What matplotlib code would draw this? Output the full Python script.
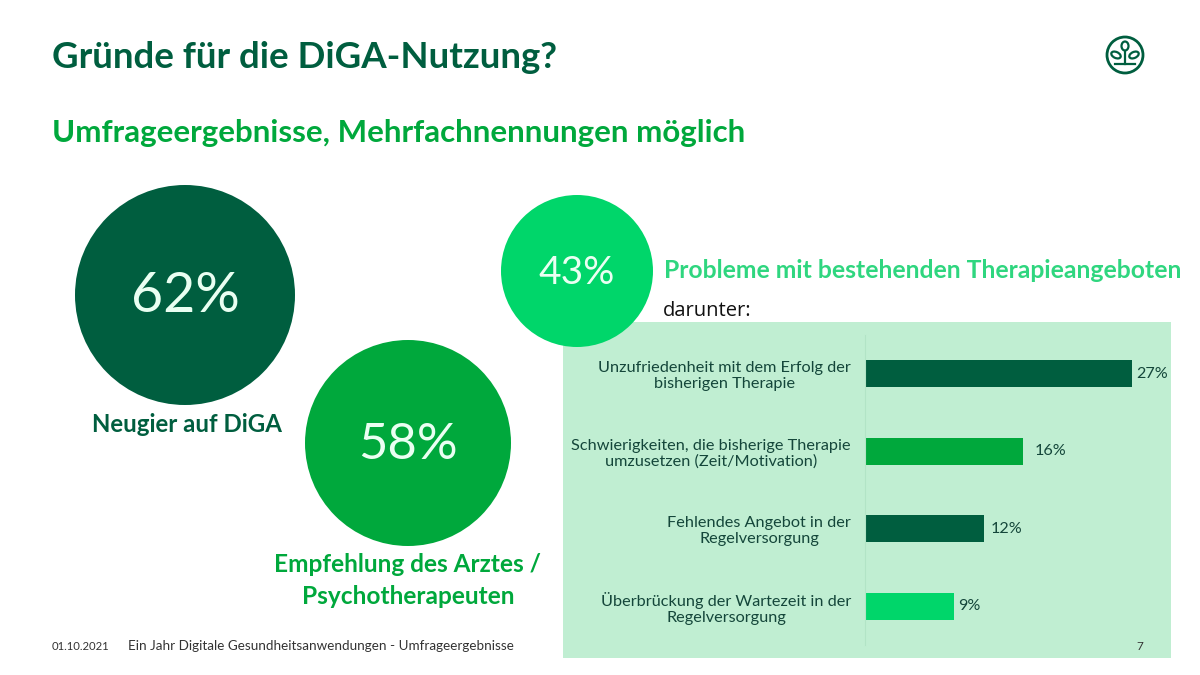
import matplotlib
matplotlib.use('Agg')
import matplotlib.pyplot as plt
from matplotlib.patches import Circle, Ellipse, Rectangle

plt.rcParams['font.family'] = ['Lato', 'DejaVu Sans']

DARK = '#005e3f'
MID = '#00a83c'
LIGHT = '#00d66a'
PANEL = '#c0eed2'
TEXT = '#14463a'

W, H = 1200, 675

circles = [
    (185, 295, 110, DARK, '62%', 40),
    (408, 443, 103, MID, '58%', 36.5),
    (577, 271, 76, LIGHT, '43%', 28),
]

labels = ['Unzufriedenheit mit dem Erfolg der\nbisherigen Therapie',
          'Schwierigkeiten, die bisherige Therapie\numzusetzen (Zeit/Motivation)',
          'Fehlendes Angebot in der\nRegelversorgung',
          'Überbrückung der Wartezeit in der\nRegelversorgung']
values = [27, 16, 12, 9]
bar_colors = [DARK, MID, DARK, LIGHT]
label_gap = [0.4, 1.2, 0.7, 0.4]

fig = plt.figure(figsize=(12, 6.75), dpi=100, facecolor='white')

# background layer in pixel coords
bg = fig.add_axes([0, 0, 1, 1])
bg.set_xlim(0, W)
bg.set_ylim(H, 0)
bg.axis('off')

bg.add_patch(Rectangle((563, 322), 608, 336, color=PANEL, lw=0, zorder=1))
for x, y, r, c, txt, size in circles:
    bg.add_patch(Circle((x, y), r, color=c, lw=0, zorder=2))
    bg.text(x, y + 2, txt, color='#eafff2', fontsize=size, ha='center', va='center', zorder=3)

bg.text(52, 57, 'Gründe für die DiGA-Nutzung?', color=DARK, fontsize=26.4, fontweight='bold', va='center')
bg.text(52, 133, 'Umfrageergebnisse, Mehrfachnennungen möglich', color=MID, fontsize=22.5, fontweight='bold', va='center')
bg.text(187, 424, 'Neugier auf DiGA', color=DARK, fontsize=17.3, fontweight='bold', ha='center', va='center')
bg.text(408, 565, 'Empfehlung des Arztes /', color=MID, fontsize=17.6, fontweight='bold', ha='center', va='center')
bg.text(408, 597, 'Psychotherapeuten', color=MID, fontsize=17.6, fontweight='bold', ha='center', va='center')
bg.text(664, 270, 'Probleme mit bestehenden Therapieangeboten', color='#2fd67f', fontsize=17.8, fontweight='bold', va='center')
bg.text(663, 311, 'darunter:', color='#111111', fontsize=14.5, family='Open Sans', va='center')

bg.text(52, 646, '01.10.2021', color='#333333', fontsize=8.1, va='center')
bg.text(128, 646, 'Ein Jahr Digitale Gesundheitsanwendungen - Umfrageergebnisse', color='#333333', fontsize=9.7, va='center')
bg.text(1140, 646, '7', color='#333333', fontsize=8.5, ha='center', va='center', zorder=3)

# logo
bg.add_patch(Circle((1125, 55), 18, fill=False, ec=DARK, lw=2))
bg.add_patch(Ellipse((1125, 46), 7, 9, fill=False, ec=DARK, lw=1.6))
bg.add_patch(Ellipse((1116, 55), 10, 6, angle=25, fill=False, ec=DARK, lw=1.6))
bg.add_patch(Ellipse((1134, 55), 10, 6, angle=-25, fill=False, ec=DARK, lw=1.6))
bg.plot([1125, 1125], [51, 64], color=DARK, lw=1.6)
bg.plot([1115, 1135], [64, 64], color=DARK, lw=1.6)

# bar chart, y axis runs over the panel height
ax = fig.add_axes([865 / W, 1 - 645 / H, 267 / W, 310 / H])
ax.patch.set_alpha(0)
ypos = list(range(len(values)))
ax.barh(ypos, values, height=0.35, color=bar_colors)
ax.set_xlim(0, 27)
ax.set_ylim(3.5, -0.5)
ax.set_yticks(ypos)
ax.set_yticklabels(labels, fontsize=11.7, color=TEXT, ha='right', multialignment='center', linespacing=1.12)
ax.tick_params(axis='y', length=0, pad=10)
ax.set_xticks([])
for s in ['top', 'right', 'bottom']:
    ax.spines[s].set_visible(False)
ax.spines['left'].set_color('#b2e4c6')
ax.spines['left'].set_linewidth(0.8)
for y, v, gap in zip(ypos, values, label_gap):
    ax.text(v + gap, y, '%d%%' % v, color=TEXT, fontsize=11.6, va='center', clip_on=False)

plt.savefig('out.png', dpi=100)
plt.close()
